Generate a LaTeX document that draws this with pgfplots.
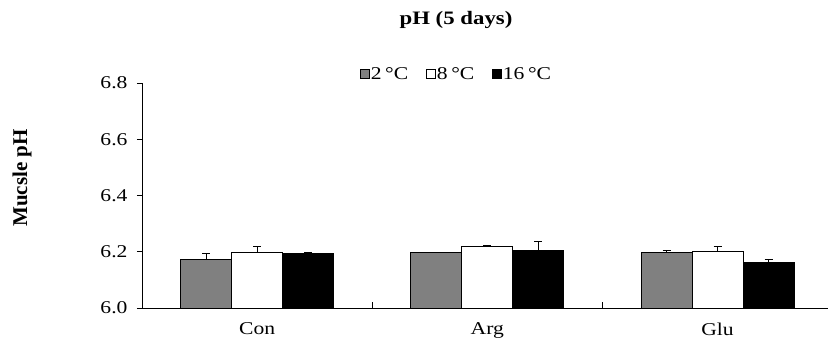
\documentclass[border=0pt]{standalone}
\usepackage{pgfplots}
\pgfplotsset{compat=1.18}
\usepackage{fontspec}
\setmainfont{Liberation Serif}
\newcommand{\hs}[1]{\scalebox{1.2}[1]{#1}}
\definecolor{bargray}{HTML}{808080}
\pgfplotsset{
  sq legend/.style={legend image code/.code={\draw[##1, draw=black, line width=0.6pt] (0pt,-4.5pt) rectangle (9pt,4.5pt);}},
  eb/.style={error bars/.cd, y dir=plus, y explicit,
    error bar style={line width=1pt, black},
    error mark options={rotate=90, mark size=4pt, line width=1pt, black}},
}
\begin{document}
\begin{tikzpicture}
\useasboundingbox (0,0) rectangle (829pt,358pt);
\begin{axis}[
  at={(142pt,50pt)}, anchor=south west,
  scale only axis, width=686pt, height=225pt,
  xmin=-0.5, xmax=2.48, ymin=6.0, ymax=6.8,
  axis lines=left, axis line style={-, line width=0.9pt},
  ybar=0pt, bar width=51pt,
  xtick={0,1,2}, xticklabels={\hs{Con},\hs{Arg},\hs{Glu}},
  major x tick style={draw=none},
  minor xtick={0.5,1.5}, minor x tick style={black, line width=0.9pt},
  minor tick length=6pt, xtick align=inside,
  ytick={6.0,6.2,6.4,6.6,6.8},
  yticklabel={\hs{\pgfmathprintnumber[assume math mode=true,fixed,fixed zerofill,precision=1]{\tick}}},
  ytick align=outside, major tick length=5pt,
  y tick style={black, line width=0.9pt},
  tick label style={font=\fontsize{18}{21}\selectfont},
  xticklabel style={yshift=-11pt},
  yticklabel style={xshift=-6pt},
  legend columns=3,
  legend style={at={(0.458,1.04)}, anchor=center, draw=none, fill=none,
    font=\fontsize{18}{21}\selectfont, nodes={inner xsep=1pt},
    /tikz/every even column/.append style={column sep=17pt}},
]
\addplot[fill=bargray, draw=black, line width=0.8pt, sq legend, eb]
  coordinates {(0,6.173) +- (0,0.020) (1,6.197) +- (0,0.002) (2,6.197) +- (0,0.006)};
\addplot[fill=white, draw=black, line width=0.8pt, sq legend, eb]
  coordinates {(0,6.197) +- (0,0.020) (1,6.218) +- (0,0.005) (2,6.202) +- (0,0.016)};
\addplot[fill=black, draw=black, line width=0.8pt, sq legend, eb]
  coordinates {(0,6.193) +- (0,0.003) (1,6.204) +- (0,0.032) (2,6.163) +- (0,0.009)};
\legend{\hs{2\,°C},\hs{8\,°C},\hs{16\,°C}}
\end{axis}
\node[font=\fontsize{19}{22}\selectfont\bfseries] at (456pt,338pt) {\hs{pH (5 days)}};
\node[rotate=90, font=\fontsize{21}{24}\selectfont\bfseries] at (22pt,180pt) {Mucsle pH};
\end{tikzpicture}
\end{document}
